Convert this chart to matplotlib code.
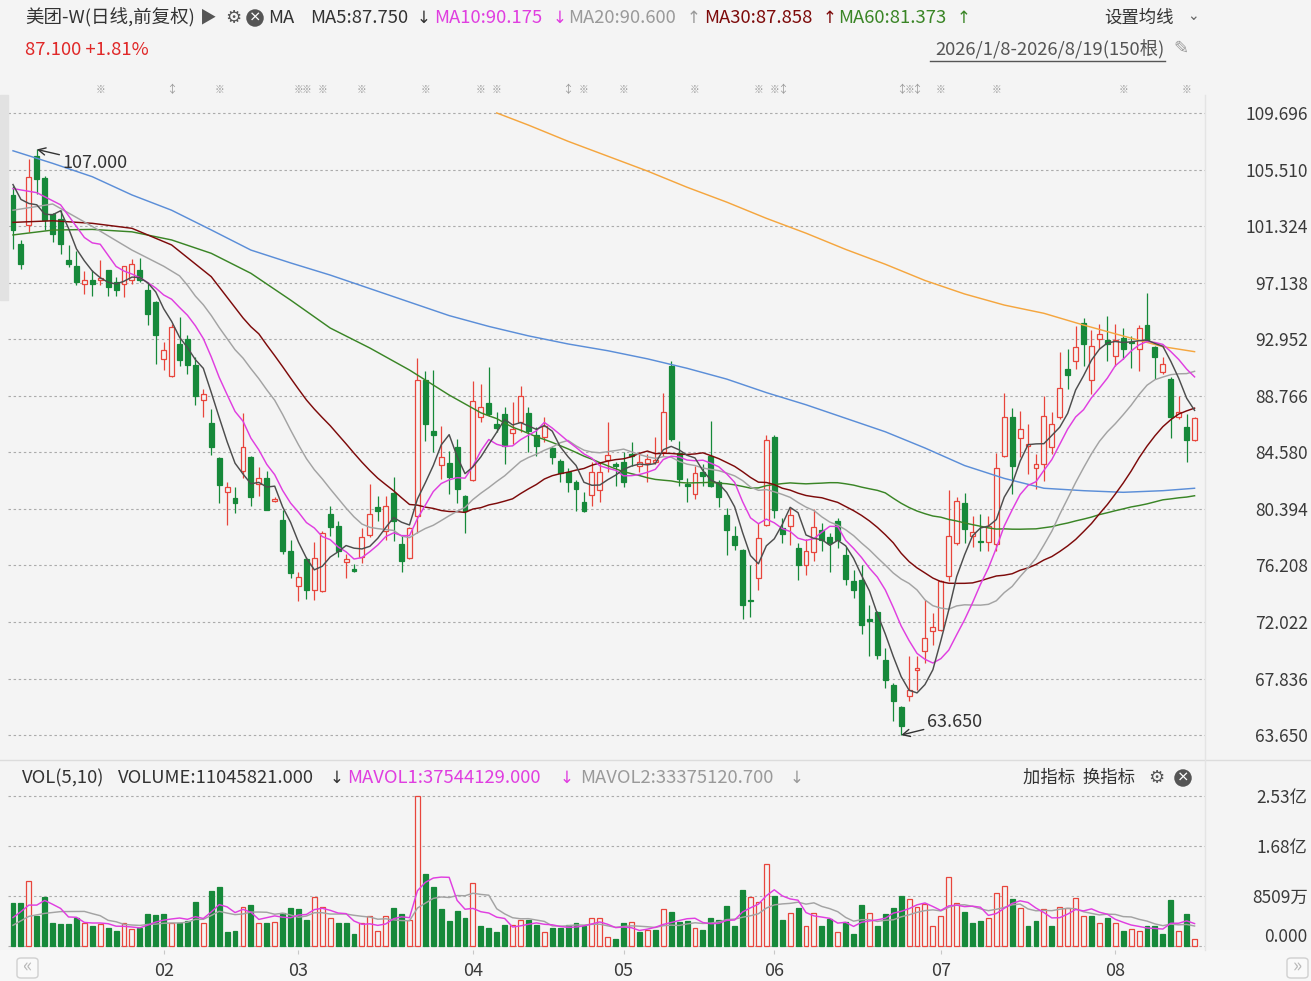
import matplotlib
matplotlib.use('Agg')
import matplotlib.pyplot as plt
from matplotlib.patches import Rectangle, FancyBboxPatch
import numpy as np
import pandas as pd

plt.rcParams['font.family'] = ['Noto Sans CJK SC', 'DejaVu Sans']

# daily candles 2026/1/8 - 2026/8/19 (150 bars)
opens = [103.66, 100.0, 101.37, 106.54, 104.87, 102.2, 101.86, 98.79, 98.34, 97.01,
         97.36, 97.3, 98.05, 97.18, 97.01, 97.31, 98.1, 96.57, 95.7, 91.52,
         90.2, 92.63, 93.0, 91.03, 88.44, 86.72, 84.13, 81.67, 81.18, 83.23,
         84.21, 82.24, 82.68, 80.96, 79.58, 77.26, 74.65, 76.7, 74.4, 74.3,
         80.02, 79.09, 76.45, 75.98, 76.82, 78.43, 80.56, 78.79, 81.55, 77.8,
         76.77, 79.9, 89.92, 86.13, 83.67, 83.77, 85.0, 81.38, 82.53, 87.17,
         88.2, 86.67, 87.41, 85.98, 86.8, 87.46, 85.86, 85.69, 84.9, 83.96,
         83.1, 82.41, 80.88, 81.43, 81.82, 84.04, 83.72, 83.89, 84.46, 83.6,
         83.79, 83.84, 84.58, 90.98, 84.53, 82.24, 81.5, 83.1, 84.33, 82.41,
         79.95, 78.4, 77.36, 73.62, 75.27, 79.21, 85.74, 78.97, 79.09, 77.49,
         76.25, 77.17, 78.84, 78.3, 79.46, 76.99, 75.03, 75.15, 72.24, 72.73,
         69.24, 67.39, 65.74, 66.53, 68.5, 69.85, 71.33, 71.45, 75.39, 77.86,
         80.83, 78.35, 78.05, 77.93, 77.8, 84.33, 87.21, 85.64, 85.07, 83.42,
         83.72, 84.95, 87.16, 90.74, 91.35, 94.18, 89.92, 92.95, 92.88, 91.72,
         93.03, 92.78, 92.2, 94.01, 92.34, 90.49, 89.99, 87.16, 86.42, 85.49]
highs = [104.3, 100.26, 106.3, 107.0, 105.0, 102.3, 102.5, 99.9, 99.47, 98.0,
         98.05, 98.8, 98.1, 97.55, 98.4, 98.9, 99.0, 97.2, 95.8, 92.75,
         94.1, 94.6, 93.3, 91.6, 89.3, 87.8, 84.25, 82.4, 82.0, 87.5,
         84.3, 83.52, 83.2, 81.25, 80.3, 78.1, 75.7, 76.8, 77.93, 78.74,
         80.59, 79.48, 77.06, 76.3, 78.99, 82.24, 81.38, 81.38, 82.73, 78.42,
         79.04, 91.55, 90.6, 90.66, 86.55, 84.7, 85.56, 81.45, 89.87, 89.6,
         90.86, 87.53, 87.9, 88.27, 89.46, 87.9, 86.43, 87.2, 85.07, 84.1,
         83.4, 82.5, 81.62, 83.84, 83.89, 86.8, 83.89, 84.58, 85.37, 84.58,
         84.46, 85.69, 89.0, 91.35, 85.44, 82.66, 83.6, 83.7, 86.9, 82.5,
         80.44, 79.09, 77.4, 76.25, 79.34, 85.86, 85.86, 79.7, 80.44, 77.86,
         78.15, 80.39, 79.34, 78.6, 79.7, 77.6, 75.89, 76.25, 73.3, 72.8,
         70.1, 67.5, 65.8, 69.48, 69.48, 73.67, 72.7, 75.15, 81.8, 81.3,
         81.6, 79.9, 80.02, 79.9, 84.5, 89.0, 87.83, 87.65, 86.67, 84.45,
         88.77, 87.53, 92.04, 92.2, 93.94, 94.55, 93.62, 94.11, 94.68, 94.06,
         93.8, 93.2, 94.0, 96.4, 92.46, 91.6, 90.12, 88.77, 87.41, 87.16]
lows = [99.65, 98.17, 100.88, 103.71, 101.0, 100.14, 99.28, 98.3, 97.0, 96.27,
        96.15, 96.94, 96.15, 96.15, 96.08, 97.06, 97.18, 93.98, 91.15, 90.66,
        90.17, 91.0, 90.4, 88.07, 87.2, 84.38, 80.8, 79.2, 80.1, 82.66,
        80.64, 81.38, 80.3, 80.88, 77.07, 75.3, 73.57, 73.74, 73.67, 74.23,
        78.42, 76.82, 75.3, 75.7, 76.37, 78.3, 79.53, 78.1, 78.05, 75.7,
        76.7, 78.6, 85.44, 84.58, 82.61, 81.5, 80.83, 78.6, 82.48, 86.8,
        87.29, 86.06, 83.72, 85.2, 86.06, 84.58, 84.33, 85.32, 83.72, 82.36,
        81.62, 80.27, 80.15, 80.64, 80.88, 83.1, 82.11, 81.99, 83.6, 83.1,
        82.36, 83.72, 84.33, 85.44, 82.11, 80.93, 81.13, 82.1, 81.99, 80.5,
        76.99, 77.36, 72.24, 72.39, 74.41, 79.09, 79.7, 77.86, 77.73, 75.15,
        75.52, 76.5, 77.24, 75.69, 77.49, 74.78, 73.79, 71.15, 69.5, 69.28,
        67.14, 64.68, 63.65, 66.15, 67.02, 68.99, 70.35, 71.33, 75.02, 77.73,
        77.9, 77.6, 77.3, 77.3, 77.3, 84.2, 81.5, 84.26, 82.98, 81.87,
        82.49, 84.45, 87.04, 89.26, 90.74, 90.98, 88.89, 92.2, 91.35, 90.98,
        91.47, 90.8, 90.6, 92.83, 90.0, 90.37, 85.64, 87.04, 83.9, 85.39]
closes = [101.0, 98.5, 104.99, 104.82, 101.74, 100.76, 100.0, 98.49, 97.2, 97.31,
          97.01, 97.5, 96.8, 96.57, 98.34, 98.54, 97.3, 94.84, 93.24, 92.14,
          93.86, 91.4, 91.03, 88.76, 88.93, 84.94, 82.16, 82.04, 80.8, 84.95,
          81.3, 82.68, 80.32, 81.13, 77.26, 75.63, 75.34, 74.4, 76.77, 78.59,
          79.04, 77.3, 76.7, 75.8, 78.3, 80.02, 80.27, 80.64, 79.53, 76.57,
          78.99, 89.9, 86.67, 85.88, 84.21, 82.78, 81.87, 80.27, 88.4, 87.9,
          87.41, 86.35, 85.07, 86.3, 88.77, 86.18, 85.07, 86.5, 84.21, 83.05,
          82.41, 81.87, 80.27, 83.1, 83.15, 84.38, 83.55, 82.41, 84.33, 83.89,
          84.08, 84.04, 87.53, 85.56, 82.61, 82.07, 83.05, 82.8, 82.11, 81.25,
          78.84, 77.73, 73.3, 73.55, 78.23, 85.49, 80.32, 78.55, 79.95, 76.25,
          77.24, 79.04, 78.1, 77.86, 78.1, 75.2, 74.41, 71.82, 72.07, 69.6,
          67.76, 66.15, 64.31, 67.02, 68.62, 70.84, 71.65, 75.02, 78.4, 81.0,
          78.9, 78.67, 77.93, 79.09, 83.42, 87.21, 83.6, 86.3, 85.19, 83.72,
          87.29, 86.67, 89.33, 90.32, 92.34, 92.58, 92.46, 93.37, 92.63, 92.88,
          92.2, 92.7, 93.81, 92.88, 91.6, 91.15, 87.16, 87.53, 85.49, 87.1]
# volume in 万股
volumes = [7170, 7170, 10900, 5000, 8200, 3900, 3700, 3700, 4700, 3900,
           3400, 3700, 3100, 2600, 3800, 2800, 3000, 5400, 5200, 5400,
           3800, 3800, 4300, 7400, 3900, 9300, 10000, 2400, 2600, 6600,
           6900, 3900, 3900, 4100, 5500, 6400, 6200, 4400, 8200, 6600,
           4700, 3900, 3900, 2000, 3800, 5100, 2600, 5100, 6400, 5400,
           4400, 25300, 12200, 10000, 6200, 4200, 5900, 4700, 10700, 3400,
           3100, 2400, 3600, 3500, 4400, 4400, 3600, 2400, 3100, 3000,
           3600, 3900, 3400, 4700, 4700, 1600, 1100, 3900, 4100, 2400,
           2700, 2700, 6300, 5700, 4100, 4200, 3100, 2700, 4700, 4400,
           6700, 3400, 9500, 8200, 7500, 13800, 8400, 4400, 5600, 6400,
           3400, 5600, 3400, 4500, 2400, 4100, 2100, 6900, 5600, 3400,
           5400, 6400, 8400, 7900, 6600, 7000, 3400, 5100, 11700, 7300,
           5700, 3800, 4200, 4800, 8900, 10100, 7900, 6400, 3400, 4200,
           6300, 3400, 6600, 6400, 8100, 5100, 5100, 3800, 4700, 3800,
           2600, 2800, 2600, 3400, 3400, 2100, 7700, 2600, 5400, 1105]

# moving-average lines: first values (history before the window)
ma5_head_idx = [0, 1, 2, 3]
ma5_head = [104.4, 103.3, 103.0, 102.9]
ma10_head_idx = [0, 3, 6]
ma10_head = [104.1, 103.8, 102.9]
ma20_head_idx = [0, 5, 10, 15]
ma20_head = [102.5, 102.96, 101.3, 99.55]
ma30_head_idx = [0, 5, 10, 15, 20, 25]
ma30_head = [101.6, 101.72, 101.53, 101.16, 99.93, 97.58]
ma60_head_idx = [0, 5, 10, 15, 20, 25, 30, 35, 40, 45, 50, 55]
ma60_head = [100.67, 101.03, 101.08, 100.9, 100.3, 99.31, 97.83, 95.85, 93.78, 92.3, 90.67, 88.82]
# long averages (blue / orange)
ma120_idx = [0, 5, 10, 15, 20, 25, 30, 35, 40, 45, 50, 55, 60, 65, 70, 75, 80, 85, 90, 95,
             100, 105, 110, 115, 120, 125, 130, 135, 140, 145, 149]
ma120_val = [106.9, 105.97, 104.98, 103.63, 102.5, 101.04, 99.55, 98.6, 97.7, 96.7,
             95.7, 94.7, 93.9, 93.2, 92.6, 92.1, 91.5, 90.8, 90.0, 89.0,
             88.1, 87.1, 86.1, 84.9, 83.6, 82.65, 81.92, 81.74, 81.62, 81.74, 81.92]
ma250_idx = [61, 65, 70, 75, 80, 85, 90, 95, 100, 105, 110, 115, 120, 125, 130, 135, 140, 145, 149]
ma250_val = [109.7, 108.8, 107.6, 106.5, 105.4, 104.2, 103.1, 101.9, 100.8, 99.6,
             98.5, 97.3, 96.3, 95.48, 94.87, 94.0, 93.19, 92.4, 92.03]
mavol5_head_idx = [0, 1, 2, 3]
mavol5_head = [4800, 5800, 6900, 6900]
mavol10_head_idx = [0, 2, 4, 6]
mavol10_head = [3500, 5000, 5500, 5800]

price_ticks = [63.650, 67.836, 72.022, 76.208, 80.394, 84.580, 88.766, 92.952,
               97.138, 101.324, 105.510, 109.696]
vol_ticks = [0, 8509, 16800, 25300]
vol_tick_labels = ['0.000', '8509万', '1.68亿', '2.53亿']
month_idx = [19, 36, 58, 77, 96, 117, 139]
month_labels = ['02', '03', '04', '05', '06', '07', '08']
event_idx = [11, 20, 26, 36, 37, 39, 44, 52, 59, 61, 70, 72, 77, 86, 94, 96, 97,
             112, 113, 114, 117, 124, 140, 148]
event_kind = ['※', '↕', '※', '※', '※', '※', '※', '※', '※', '※', '↕', '※', '※', '※', '※', '※', '↕',
              '↕', '※', '↕', '※', '※', '※', '※']

BG = '#f4f4f4'
RED = '#e8453c'
GREEN = '#16893a'
C_MA5 = '#4d4d4d'
C_MA10 = '#e03ee0'
C_MA20 = '#a3a3a3'
C_MA30 = '#7d0a0a'
C_MA60 = '#3a8526'
C_BLUE = '#5b8ed8'
C_ORANGE = '#f4a63f'
TXT = '#333333'

W, H = 1311, 981
N = len(closes)

fig = plt.figure(figsize=(W / 100, H / 100), dpi=100, facecolor=BG)


def fp(x, y):
    return x / W, 1 - y / H


def ftext(x, y, s, color=TXT, size=13.3, ha='left', **kw):
    fig.text(*fp(x, y), s, color=color, fontsize=size, ha=ha, va='center', **kw)


def arrow(x, y, s, color=TXT):
    ftext(x, y, s, color=color, size=12, ha='center', family=['DejaVu Sans'])


def axes_px(left, top, right, bottom):
    return fig.add_axes([left / W, 1 - bottom / H, (right - left) / W, (bottom - top) / H])


# lighter strip under the volume panel
fig.add_artist(Rectangle(fp(0, 981), 1, 31 / H, color='#f7f7f7', transform=fig.transFigure, zorder=0))

ax = axes_px(8, 100, 1205, 758)
axv = axes_px(8, 786, 1205, 950)

ppx = 13.51          # pixels per price unit
step = 7.93          # pixels per candle
x0 = (8 - 13) / step
x1 = (1205 - 13) / step

for a in (ax, axv):
    a.set_facecolor(BG)
    for s in a.spines.values():
        s.set_visible(False)
    a.set_xlim(x0, x1)

ax.set_ylim(109.696 - (758 - 113) / ppx, 109.696 + (113 - 100) / ppx)
vk = 150 / 25300
axv.set_ylim(-(950 - 946) / vk, 25300 + (796 - 786) / vk)

# grid
dash = (0, (2.2, 2.4))
for t in price_ticks:
    ax.axhline(t, color='#ababab', lw=0.8, ls=dash, zorder=1)
for t in vol_ticks:
    axv.axhline(t, color='#ababab', lw=0.8, ls=dash, zorder=1)

# candles
bw = 0.62
for i in range(N):
    o, h, l, c = opens[i], highs[i], lows[i], closes[i]
    up = c >= o
    col = RED if up else GREEN
    ax.vlines(i, l, h, color=col, lw=0.9, zorder=3)
    lo, hi = min(o, c), max(o, c)
    if hi - lo < 0.07:
        hi = lo + 0.07
    ax.add_patch(Rectangle((i - bw / 2, lo), bw, hi - lo, facecolor=BG if up else col,
                           edgecolor=col, lw=0.9, zorder=4))

# volume bars (colour by change vs previous close)
for i in range(N):
    prev = closes[i - 1] if i > 0 else opens[0]
    up = closes[i] >= prev
    col = RED if up else GREEN
    axv.add_patch(Rectangle((i - bw / 2, 0), bw, volumes[i], facecolor=BG if up else col,
                            edgecolor=col, lw=0.9, zorder=3))

cs = pd.Series(closes)
vs = pd.Series(volumes, dtype=float)


def ma_plot(a, series, n, head_idx, head_val, color):
    m = series.rolling(n).mean()
    xs = list(head_idx) + list(range(n - 1, N))
    ys = list(head_val) + list(m.iloc[n - 1:])
    a.plot(xs, ys, color=color, lw=1.05, zorder=6)


ax.plot(ma250_idx, ma250_val, color=C_ORANGE, lw=1.05, zorder=5)
ax.plot(ma120_idx, ma120_val, color=C_BLUE, lw=1.05, zorder=5)
ma_plot(ax, cs, 60, ma60_head_idx, ma60_head, C_MA60)
ma_plot(ax, cs, 30, ma30_head_idx, ma30_head, C_MA30)
ma_plot(ax, cs, 20, ma20_head_idx, ma20_head, C_MA20)
ma_plot(ax, cs, 10, ma10_head_idx, ma10_head, C_MA10)
ma_plot(ax, cs, 5, ma5_head_idx, ma5_head, C_MA5)

ma_plot(axv, vs, 10, mavol10_head_idx, mavol10_head, C_MA20)
ma_plot(axv, vs, 5, mavol5_head_idx, mavol5_head, C_MA10)

# high / low annotations
hi_i = int(np.argmax(highs))
lo_i = int(np.argmin(lows))
ax.annotate(f'{highs[hi_i]:.3f}', xy=(hi_i, highs[hi_i]), xytext=(hi_i + 3.2, highs[hi_i] - 1.0),
            fontsize=13, color=TXT, va='center', ha='left', zorder=8,
            arrowprops=dict(arrowstyle='->', color=TXT, lw=1.0, shrinkA=0, shrinkB=0))
ax.annotate(f'{lows[lo_i]:.3f}', xy=(lo_i, lows[lo_i]), xytext=(lo_i + 3.2, lows[lo_i] + 0.97),
            fontsize=13, color=TXT, va='center', ha='left', zorder=8,
            arrowprops=dict(arrowstyle='->', color=TXT, lw=1.0, shrinkA=0, shrinkB=0))

# event markers above the chart
for i, k in zip(event_idx, event_kind):
    ax.text(i, 1 + 10 / 658, k, transform=ax.get_xaxis_transform(), ha='center', va='center',
            fontsize=7 if k == '※' else 8, color='#9a9a9a', clip_on=False,
            family=['Noto Sans CJK SC', 'DejaVu Sans'])

# price axis labels on the right
ax.yaxis.tick_right()
ax.set_yticks(price_ticks)
ax.set_yticklabels([f'{t:.3f}' for t in price_ticks])
ax.tick_params(axis='y', length=0, pad=74, labelsize=12.5, labelcolor='#3a3a3a')
for lbl in ax.get_yticklabels():
    lbl.set_horizontalalignment('right')
ax.set_xticks([])

axv.yaxis.tick_right()
axv.set_yticks(vol_ticks)
axv.set_yticklabels(vol_tick_labels)
axv.tick_params(axis='y', length=0, pad=74, labelsize=12.5, labelcolor='#3a3a3a')
for lbl in axv.get_yticklabels():
    lbl.set_horizontalalignment('right')
axv.get_yticklabels()[0].set_verticalalignment('bottom')

# month labels below the volume panel
axv.set_xticks(month_idx)
axv.set_xticklabels([])
axv.tick_params(axis='x', length=3, color='#c8c8c8')
for i, m in zip(month_idx, month_labels):
    axv.text(i, -(971 - 950) / 164, m, transform=axv.get_xaxis_transform(), ha='center',
             va='center', fontsize=13, color='#3a3a3a', clip_on=False)

# frame lines
fig.add_artist(plt.Line2D([0, 1], [1 - 760 / H] * 2, color='#dcdcdc', lw=1))
fig.add_artist(plt.Line2D([1205 / W] * 2, [1 - 95 / H, 1 - 950 / H], color='#e4e4e4', lw=1))
fig.add_artist(Rectangle(fp(0, 300), 8 / W, 205 / H, color='#e2e2e2', transform=fig.transFigure))

# header row
ftext(25, 18, '美团-W(日线,前复权)')
ftext(200, 18, '▶', color='#555555', size=12)
ftext(225, 18, '⚙', color='#555555', size=13, family=['DejaVu Sans'])
ftext(255, 18, '×', color='white', size=9, ha='center', fontweight='bold',
      bbox=dict(boxstyle='circle,pad=0.18', fc='#555555', ec='none'))
ftext(268, 18, 'MA')
ftext(310, 18, 'MA5:87.750')
arrow(424, 18, '↓')
ftext(434, 18, 'MA10:90.175', color=C_MA10)
arrow(560, 18, '↓', color=C_MA10)
ftext(568, 18, 'MA20:90.600', color='#9a9a9a')
arrow(694, 18, '↑', color='#9a9a9a')
ftext(704, 18, 'MA30:87.858', color=C_MA30)
arrow(830, 18, '↑', color=C_MA30)
ftext(838, 18, 'MA60:81.373', color=C_MA60)
arrow(964, 18, '↑', color=C_MA60)
ftext(1104, 18, '设置均线', size=12.5)
ftext(1187, 16, '⌄', color='#666666', size=10, family=['DejaVu Sans'])

ftext(25, 50, '87.100 +1.81%', color='#e02828')
ftext(1165, 50, '2026/1/8-2026/8/19(150根)', color='#555555', ha='right')
fig.add_artist(plt.Line2D([930 / W, 1165 / W], [1 - 61 / H] * 2, color='#555555', lw=1))
ftext(1181, 49, '✎', color='#9a9a9a', size=13, ha='center', family=['DejaVu Sans'])

# volume header
ftext(22, 778, 'VOL(5,10)')
ftext(118, 778, 'VOLUME:11045821.000')
arrow(337, 778, '↓')
ftext(347, 778, 'MAVOL1:37544129.000', color=C_MA10)
arrow(567, 778, '↓', color=C_MA10)
ftext(580, 778, 'MAVOL2:33375120.700', color='#9a9a9a')
arrow(797, 778, '↓', color='#9a9a9a')
ftext(1023, 778, '加指标  换指标', size=12.5)
ftext(1156, 778, '⚙', color='#555555', size=13, ha='center', family=['DejaVu Sans'])
ftext(1183, 778, '×', color='white', size=9, ha='center', fontweight='bold',
      bbox=dict(boxstyle='circle,pad=0.18', fc='#555555', ec='none'))

# scroll buttons
for bx, sym in ((17, '«'), (1287, '»')):
    fig.add_artist(FancyBboxPatch(fp(bx, 978), 21 / W, 20 / H, boxstyle='round,pad=0,rounding_size=0.003',
                                  fc='#f9f9f9', ec='#d0d0d0', lw=1, transform=fig.transFigure))
    ftext(bx + 10.5, 967, sym, color='#b8b8b8', size=14, ha='center')

fig.savefig('out.png', dpi=100, facecolor=BG)
